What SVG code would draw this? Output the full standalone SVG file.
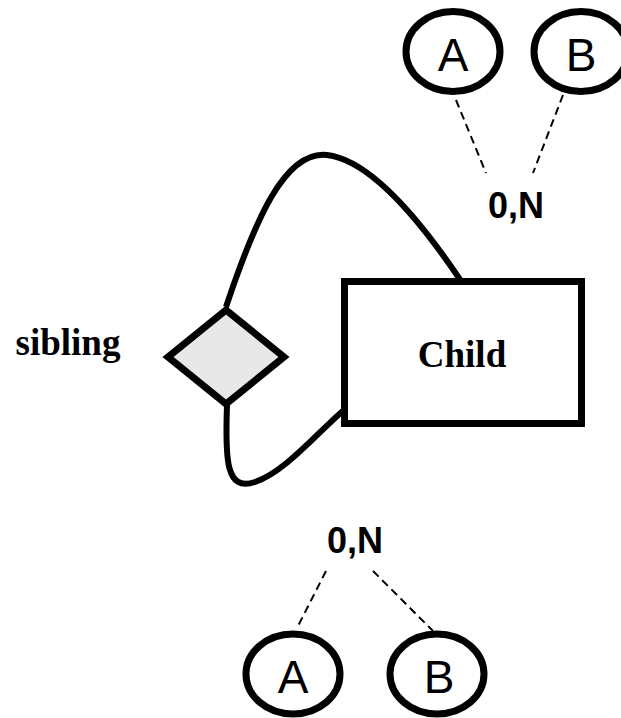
<svg xmlns="http://www.w3.org/2000/svg" width="621" height="718" viewBox="0 0 621 718">
<style>
.attr{fill:#fff;stroke:#000;stroke-width:7}
.attrt{font-family:"Liberation Sans",Arial,sans-serif;font-size:46px;fill:#000;text-anchor:middle}
.card{font-family:"Liberation Sans",Arial,sans-serif;font-size:36px;font-weight:bold;fill:#000;text-anchor:middle}
.dash{stroke:#000;stroke-width:2;stroke-dasharray:8,5;fill:none}
.link{stroke:#000;stroke-width:6;fill:none}
.lbl{font-family:"Liberation Serif","Times New Roman",serif;font-size:37px;font-weight:bold;fill:#000;text-anchor:middle}
</style>
<rect width="621" height="718" fill="#fff"/>
<g id="connectors">
<path class="link" d="M226,307 C255,220 285,150 327,155 C370,160 420,220 461,281"/>
<path class="link" d="M227,405 C225,460 226,492 255,482 C285,472 318,432 344,410"/>
<line class="dash" x1="456" y1="100" x2="486" y2="173"/>
<line class="dash" x1="563" y1="95" x2="533" y2="173"/>
<line class="dash" x1="326" y1="571" x2="297" y2="628"/>
<line class="dash" x1="373" y1="571" x2="433" y2="631"/>
</g>
<g id="child">
<rect x="344.5" y="281.5" width="237" height="142" fill="#fff" stroke="#000" stroke-width="7"/>
<text class="lbl" x="462" y="367">Child</text>
</g>
<g id="sibling">
<polygon points="226,310 284,357 226,404 168,357" fill="#e8e8e8" stroke="#000" stroke-width="7"/>
<text class="lbl" x="68" y="355">sibling</text>
</g>
<g id="card-top">
<text class="card" x="516" y="218">0,N</text>
</g>
<g id="card-bottom">
<text class="card" x="355" y="553">0,N</text>
</g>
<g id="attr-top-a">
<ellipse class="attr" cx="453" cy="51.5" rx="47" ry="40"/>
<text class="attrt" x="453" y="71">A</text>
</g>
<g id="attr-top-b">
<ellipse class="attr" cx="581" cy="51.5" rx="47" ry="40"/>
<text class="attrt" x="581" y="71">B</text>
</g>
<g id="attr-bottom-a">
<ellipse class="attr" cx="293" cy="674" rx="47" ry="40"/>
<text class="attrt" x="293" y="693">A</text>
</g>
<g id="attr-bottom-b">
<ellipse class="attr" cx="437" cy="674" rx="47" ry="40"/>
<text class="attrt" x="439" y="693">B</text>
</g>
</svg>
